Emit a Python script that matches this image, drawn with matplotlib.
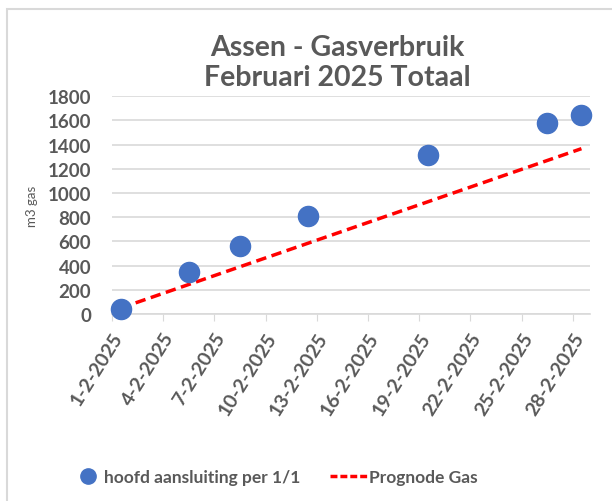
import datetime as dt
import matplotlib.pyplot as plt
import matplotlib.transforms as mtrans
from matplotlib.lines import Line2D
from matplotlib.patches import Rectangle

# meetpunten (datum, cumulatief m3 gas)
meet_dagen = [1, 5, 8, 12, 19, 26, 28]
meet_waarden = [41, 347, 562, 810, 1316, 1575, 1644]

# prognose lijn (begin- en eindpunt)
prog_dagen = [1, 28]
prog_waarden = [49, 1366]

titel = "Assen - Gasverbruik\nFebruari 2025 Totaal"
y_label = "m3 gas"
y_ticks = list(range(0, 1801, 200))
x_tick_dagen = list(range(1, 29, 3))
legenda = ["hoofd aansluiting per 1/1", "Prognode Gas"]

grijs = "#595959"
font = "Lato"

# Excel zet punten midden op de dag
meet_x = [dt.datetime(2025, 2, d, 12) for d in meet_dagen]
prog_x = [dt.datetime(2025, 2, d, 12) for d in prog_dagen]

fig = plt.figure(figsize=(6.12, 5.02), dpi=100)
ax = fig.add_axes([0.183, 0.3725, 0.781, 0.434])

ax.plot(prog_x, prog_waarden, color="#ff0000", lw=2.5, ls=(0, (3, 1.6)), zorder=2)
ax.scatter(meet_x, meet_waarden, s=210, color="#4472c4", zorder=3, clip_on=False)

ax.set_xlim(dt.datetime(2025, 2, 1), dt.datetime(2025, 3, 1))
ax.set_ylim(0, 1800)
ax.set_yticks(y_ticks)
ax.set_yticklabels([str(v) for v in y_ticks], fontsize=13.5, fontweight="bold",
                   color=grijs, family=font)
ax.tick_params(axis="y", length=0, pad=15)

xt = [dt.datetime(2025, 2, d) for d in x_tick_dagen]
ax.set_xticks(xt)
ax.set_xticklabels([f"{d.day}-{d.month}-{d.year}" for d in xt], rotation=58,
                   ha="right", va="center", rotation_mode="anchor", fontsize=14,
                   fontweight="bold", color=grijs, family=font)
ax.tick_params(axis="x", length=5, color="#d9d9d9", pad=9)
schuif = mtrans.ScaledTranslation(7 / 100, 0, fig.dpi_scale_trans)
for lbl in ax.get_xticklabels():
    lbl.set_transform(lbl.get_transform() + schuif)

ax.grid(axis="y", color="#d9d9d9", lw=1.2)
ax.set_axisbelow(True)
for s in ["top", "right", "left"]:
    ax.spines[s].set_visible(False)
ax.spines["bottom"].set_color("#d9d9d9")
ax.spines["bottom"].set_linewidth(1.2)

ax.set_ylabel(y_label, fontsize=9.5, color=grijs, family=font)
ax.yaxis.set_label_coords(-0.155, 0.5)

fig.text(0.551, 0.93, titel, ha="center", va="top", fontsize=20.5,
         fontweight="bold", color=grijs, family=font, linespacing=1.2)

leg_prop = {"family": font, "weight": "bold", "size": 12.5}
fig.legend([Line2D([], [], marker="o", ls="none", color="#4472c4", markersize=11)],
           [legenda[0]], loc="center left", bbox_to_anchor=(0.134, 0.048),
           frameon=False, prop=leg_prop, labelcolor=grijs, handlelength=0.7,
           handletextpad=0.55, borderpad=0, borderaxespad=0)
fig.legend([Line2D([], [], color="#ff0000", lw=2.5, ls=(0, (2, 0.85)))],
           [legenda[1]], loc="center left", bbox_to_anchor=(0.539, 0.048),
           frameon=False, prop=leg_prop, labelcolor=grijs, handlelength=2.15,
           handletextpad=0.1, borderpad=0, borderaxespad=0)

# lichte rand van het grafiekgebied
fig.patches.append(Rectangle((6.5 / 612, -0.1), 1.0, 1 - 9.5 / 502 + 0.1,
                             transform=fig.transFigure, fill=False,
                             ec="#d9d9d9", lw=1.5))

fig.savefig("out.png", dpi=100)
